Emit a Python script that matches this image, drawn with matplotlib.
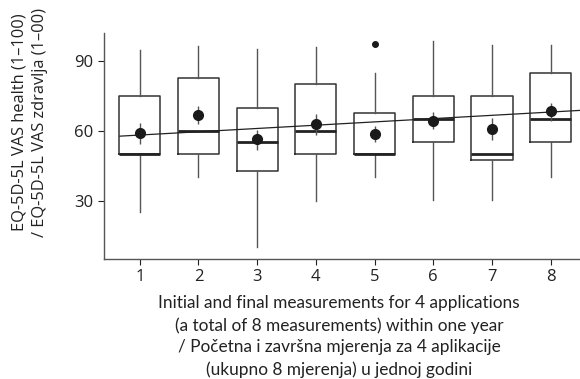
import matplotlib
matplotlib.use("Agg")
import matplotlib.pyplot as plt
import numpy as np

# values
groups = [1, 2, 3, 4, 5, 6, 7, 8]
q1 = [50, 50, 42.7, 50, 50, 55, 47.6, 55]
med = [50, 60, 55, 60, 50, 65, 50, 65]
q3 = [75, 82.6, 70, 80, 67.6, 75, 75, 85]
wlo = [25, 40.4, 10, 30, 40.3, 30.4, 30.3, 40.1]
whi = [94.7, 96.4, 95, 95.9, 84.7, 98.6, 96.9, 96.9]
outliers = [[], [], [], [], [97.1], [], [], []]
means = [59.1, 66.9, 56.4, 63.1, 58.6, 64.4, 61.0, 68.6]
ci_lo = [54.3, 62.9, 51.9, 58.1, 55.2, 60.7, 56.1, 64.3]
ci_hi = [63.3, 70.7, 60.4, 67.1, 61.9, 68.0, 65.4, 72.1]
trend_b0 = 58.2   # value at x = 1
trend_b1 = 1.41   # per measurement

plt.rcParams['font.family'] = ['Open Sans', 'DejaVu Sans']

fig = plt.figure(figsize=(5.8, 3.79), dpi=100)
ax = fig.add_axes([0.179, 0.3166, 0.821, 0.5964])

stats = []
for i in range(len(groups)):
    stats.append(dict(q1=q1[i], med=med[i], q3=q3[i], whislo=wlo[i],
                      whishi=whi[i], fliers=outliers[i]))

ax.bxp(stats, positions=groups, widths=0.7, showcaps=False,
       boxprops=dict(color="#333333", linewidth=1.1),
       whiskerprops=dict(color="#555555", linewidth=1.0),
       medianprops=dict(color="#222222", linewidth=2.0),
       flierprops=dict(marker="o", markersize=4, markerfacecolor="#1a1a1a",
                       markeredgecolor="#1a1a1a"))

yerr = [np.array(means) - np.array(ci_lo), np.array(ci_hi) - np.array(means)]
ax.errorbar(groups, means, yerr=yerr, fmt="o", color="#1a1a1a", markersize=7,
            ecolor="#555555", elinewidth=1.0, capsize=0, zorder=4)

xs = np.array([0.66, 8.6])
ax.plot(xs, trend_b0 + trend_b1 * (xs - 1), color="#222222", linewidth=0.9, zorder=3)

ax.set_xlim(0.387, 8.5)
ax.set_ylim(5, 102)
ax.set_xticks(groups)
ax.set_xticklabels([str(g) for g in groups])
ax.set_yticks([30, 60, 90])
ax.tick_params(labelsize=12, colors="#222222", length=4, width=0.8)
for s in ["top", "right"]:
    ax.spines[s].set_visible(False)
for s in ["left", "bottom"]:
    ax.spines[s].set_color("#555555")
    ax.spines[s].set_linewidth(1.0)

fig.text(0.034, 0.678, "EQ-5D-5L VAS health (1\u2013100)", rotation=90,
         ha="center", va="center", fontsize=11.8, color="#222222")
fig.text(0.069, 0.678, "/ EQ-5D-5L VAS zdravlja (1\u201300)", rotation=90,
         ha="center", va="center", fontsize=11.8, color="#222222")

fig.text(0.585, 0.221,
         "Initial and final measurements for 4 applications\n"
         "(a total of 8 measurements) within one year\n"
         "/ Početna i završna mjerenja za 4 aplikacije\n"
         "(ukupno 8 mjerenja) u jednoj godini",
         ha="center", va="top", fontsize=12.4, family=["Lato", "DejaVu Sans"],
         linespacing=1.44, color="#222222")

fig.savefig("out.png", dpi=100)
